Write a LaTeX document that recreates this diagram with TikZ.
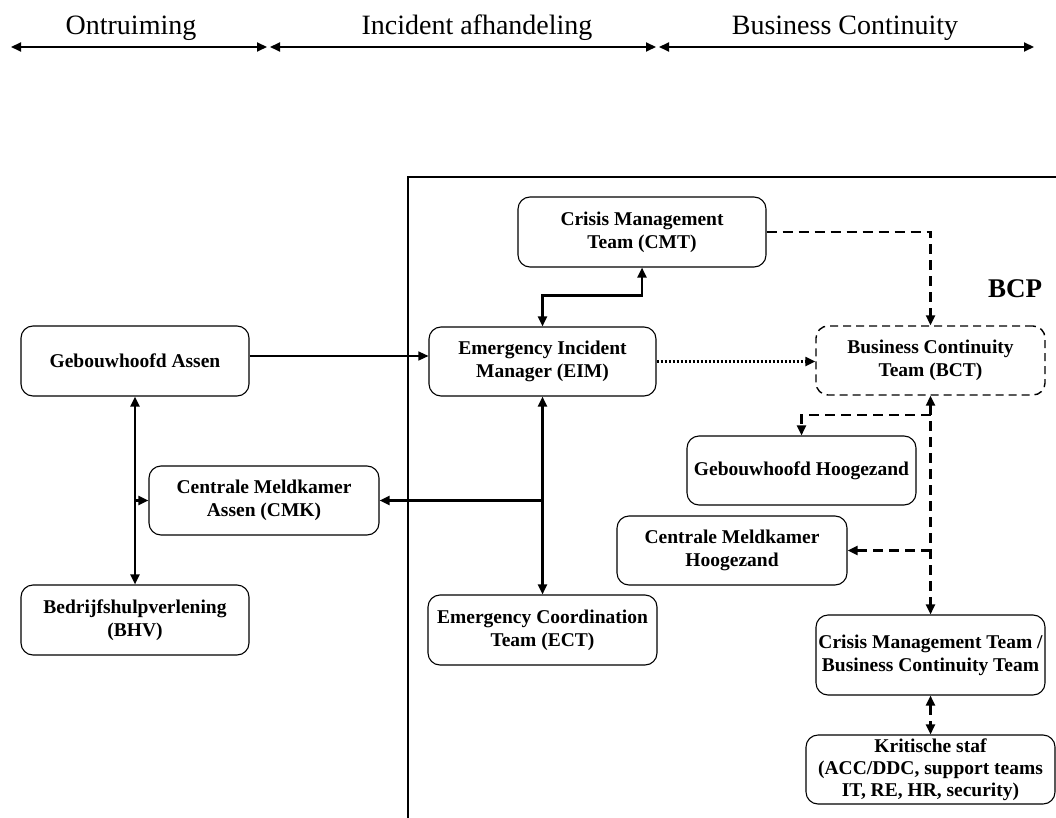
\documentclass[tikz,border=0pt]{standalone}
\usepackage{fontspec}
\setmainfont{Liberation Serif}
\usetikzlibrary{arrows.meta,calc}
\newcommand\myboxfont{\fontsize{19.5}{23}\selectfont\bfseries}
\newcommand\mytopfont{\fontsize{28}{32}\selectfont}
\begin{document}
\begin{tikzpicture}[x=1pt,y=-1pt,
  >={Triangle[length=10pt,width=9pt]},
  box/.style={draw, rounded corners=12pt, line width=1.1pt, align=center, inner sep=1pt, font=\myboxfont},
  dbox/.style={box, dash pattern=on 8pt off 5pt, line width=1.4pt},
  solidcon/.style={line width=2.2pt},
  thincon/.style={line width=1.3pt},
  dashcon/.style={line width=2.2pt, dash pattern=on 10pt off 6pt},
  dotcon/.style={line width=2.2pt, dash pattern=on 2pt off 2pt},
  toplabel/.style={font=\mytopfont, inner sep=0pt},
  toparrow/.style={line width=2pt, {Triangle[length=10pt,width=9pt]}-{Triangle[length=10pt,width=9pt]}},
  frame/.style={line width=1.1pt}
]
\useasboundingbox (0,0) rectangle (1056,818);

% top labels and arrows
\node[toplabel] (lo) at (131,28) {Ontruiming};
\node[toplabel] (li) at (477,28) {Incident afhandeling};
\node[toplabel] (lb) at (845,28) {Business Continuity};
\coordinate (a0) at (11,47);
\coordinate (a1) at (267,47);
\coordinate (a2) at (270,47);
\coordinate (a3) at (656,47);
\coordinate (a4) at (659,47);
\coordinate (a5) at (1034,47);
\draw[toparrow] (a0) -- (a1);
\draw[toparrow] (a2) -- (a3);
\draw[toparrow] (a4) -- (a5);

% frame
\coordinate (f0) at (408,818);
\coordinate (f1) at (408,177);
\coordinate (f2) at (1056,177);
\draw[frame] (f0) -- (f1) -- (f2);
\node[font=\fontsize{27}{30}\selectfont\bfseries, inner sep=0pt] (bcp) at (1015,289) {BCP};

% boxes
\node[box, minimum width=228pt, minimum height=70pt] (GA) at (135,361) {Gebouwhoofd Assen};
\node[box, minimum width=230pt, minimum height=69pt] (CMK) at (264,500.5) {Centrale Meldkamer\\Assen (CMK)};
\node[box, minimum width=228pt, minimum height=70pt] (BHV) at (135,620) {Bedrijfshulpverlening\\(BHV)};
\node[box, minimum width=248pt, minimum height=70pt] (CMT) at (642,232) {Crisis Management\\Team (CMT)};
\node[box, minimum width=227pt, minimum height=69pt] (EIM) at (542.5,361.5) {Emergency Incident\\Manager (EIM)};
\node[box, minimum width=229pt, minimum height=70pt] (ECT) at (542.5,630) {Emergency Coordination\\Team (ECT)};
\node[dbox, minimum width=229pt, minimum height=69pt] (BCT) at (930.5,360.5) {Business Continuity\\Team (BCT)};
\node[box, minimum width=229pt, minimum height=69pt] (GH) at (801.5,470.5) {Gebouwhoofd Hoogezand};
\node[box, minimum width=230pt, minimum height=69pt] (CMH) at (732,550.5) {Centrale Meldkamer\\Hoogezand};
\node[box, inner xsep=0pt, minimum width=229pt, minimum height=80pt] (CMBT) at (930.5,655) {Crisis Management Team /\\Business Continuity Team};
\node[box, font=\fontsize{19.5}{22}\selectfont\bfseries, minimum width=249pt, minimum height=69pt] (KS) at (930.5,769.5) {Kritische staf\\(ACC/DDC, support teams\\IT, RE, HR, security)};

% left connectors
\draw[solidcon, <->] (GA) -- (BHV);
\draw[solidcon, ->] (GA |- CMK.west) -- (CMK.west);
\draw[thincon, ->] ([yshift=5pt]GA.east) -- ([yshift=5pt]GA.east -| EIM.west);

% middle connectors
\draw[solidcon, <->] (EIM.north) -- ++(0,-31) -| (CMT.south);
\draw[solidcon, <->] (EIM) -- (ECT);
\draw[solidcon, ->] (EIM |- CMK.east) -- (CMK.east);
\draw[dotcon, ->] (EIM.east) -- (EIM.east -| BCT.west);

% right connectors
\draw[dashcon, ->] (CMT.east) -| (BCT.north);
\draw[dashcon, <->] (BCT.south) -- (CMBT.north);
\coordinate (j1) at (930.5,415);
\draw[dashcon, ->] (j1) -| (GH.north);
\draw[dashcon, ->] (BCT.south |- CMH.east) -- (CMH.east);
\draw[dashcon, <->] (CMBT.south) -- (KS.north);
\end{tikzpicture}
\end{document}
